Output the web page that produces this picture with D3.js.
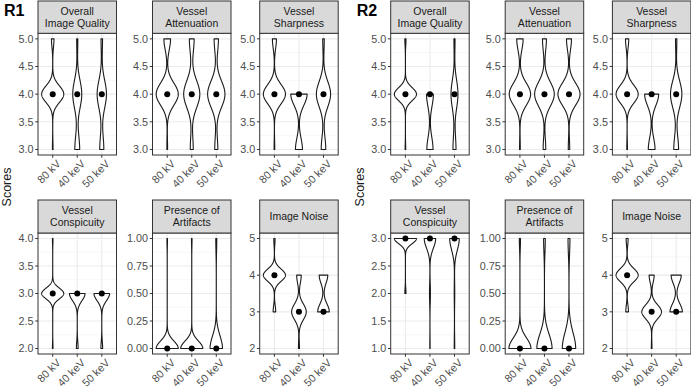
<!DOCTYPE html>
<html>
<head>
<meta charset="utf-8">
<script src="https://cdn.jsdelivr.net/npm/d3@7"></script>
<style>
  body { margin: 0; background: #fff; }
  svg { display: block; }
  text { font-family: "Liberation Sans", Arial, sans-serif; }
</style>
</head>
<body>
<div id="app"></div>
<script>
const energies = ["80 kV", "40 keV", "50 keV"];
const criteria = [
  ["Overall", "Image Quality"],
  ["Vessel", "Attenuation"],
  ["Vessel", "Sharpness"],
  ["Vessel", "Conspicuity"],
  ["Presence of", "Artifacts"],
  ["Image Noise"]
];

// score levels of each panel
const r1Levels = [[3, 4, 5], [3, 4, 5], [3, 4, 5], [2, 3, 4], [0, 1], [2, 3, 4, 5]];
const r2Levels = [[3, 4, 5], [3, 4, 5], [3, 4, 5], [1, 2, 3], [0, 1], [2, 3, 4, 5]];

// patients per score level, for 80 kV / 40 keV / 50 keV
const r1Counts = [
  [[1, 35, 4], [13, 24, 3], [11, 25, 4]],
  [[1, 30, 9], [5, 27, 8], [5, 28, 7]],
  [[1, 33, 6], [12, 28, 0], [9, 28, 3]],
  [[1, 38, 1], [4, 36, 0], [4, 36, 0]],
  [[39, 1], [39, 1], [37, 3]],
  [[0, 4, 34, 2], [2, 29, 9, 0], [0, 23, 17, 0]]
];
const r2Counts = [
  [[1, 37, 2], [19, 21, 0], [11, 25, 4]],
  [[1, 30, 9], [4, 30, 6], [2, 31, 7]],
  [[1, 34, 5], [13, 27, 0], [11, 26, 3]],
  [[0, 2, 38], [1, 3, 36], [2, 2, 36]],
  [[38, 2], [36, 4], [35, 5]],
  [[0, 4, 33, 3], [1, 31, 8, 0], [0, 22, 18, 0]]
];

// y tick labels of each panel
const r1Ticks = [
  ["3.0", "3.5", "4.0", "4.5", "5.0"],
  ["3.0", "3.5", "4.0", "4.5", "5.0"],
  ["3.0", "3.5", "4.0", "4.5", "5.0"],
  ["2.0", "2.5", "3.0", "3.5", "4.0"],
  ["0.00", "0.25", "0.50", "0.75", "1.00"],
  ["2", "3", "4", "5"]
];
const r2Ticks = [
  ["3.0", "3.5", "4.0", "4.5", "5.0"],
  ["3.0", "3.5", "4.0", "4.5", "5.0"],
  ["3.0", "3.5", "4.0", "4.5", "5.0"],
  ["1.0", "1.5", "2.0", "2.5", "3.0"],
  ["0.00", "0.25", "0.50", "0.75", "1.00"],
  ["2", "3", "4", "5"]
];

const width = 691;
const height = 390;
const colX = [38, 152.5, 259.7];
const panelW = 78.5;
const rows = [
  { strip: 1, top: 33.3, bottom: 155 },
  { strip: 200, top: 233, bottom: 354 }
];

const svg = d3.select("#app").append("svg").attr("width", width).attr("height", height);

// R's bw.nrd0
const bwNrd0 = (x) => {
  const hi = d3.deviation(x);
  const iqr = d3.quantileSorted(x, 0.75) - d3.quantileSorted(x, 0.25);
  let lo = Math.min(hi, iqr / 1.34);
  if (!(lo > 0)) lo = hi || Math.abs(x[0]) || 1;
  return 0.9 * lo * Math.pow(x.length, -0.2);
};

const violinStats = (levels, counts) => {
  const values = levels.flatMap((l, i) => d3.range(counts[i]).map(() => l));
  const bw = bwNrd0(values);
  const lo = d3.min(values);
  const hi = d3.max(values);
  const n = values.length;
  const pts = d3.range(512).map((i) => {
    const v = lo + (hi - lo) * i / 511;
    const dens = d3.sum(levels, (l, k) => counts[k] * Math.exp(-0.5 * ((v - l) / bw) ** 2)) / (n * bw * Math.sqrt(2 * Math.PI));
    return { v, dens };
  });
  return { pts, median: d3.median(values), lo, hi };
};

function drawReader(x0, name, levelsAll, countsAll, ticksAll) {
  const g = svg.append("g").attr("transform", `translate(${x0},0)`);

  g.append("text")
    .attr("x", 4)
    .attr("y", 16)
    .style("font-size", "16px")
    .style("font-weight", "bold")
    .text(name);

  g.append("text")
    .attr("transform", `translate(11,187) rotate(-90)`)
    .attr("text-anchor", "middle")
    .style("font-size", "12.5px")
    .attr("fill", "#1a1a1a")
    .text("Scores");

  criteria.forEach((crit, p) => {
    const row = rows[Math.floor(p / 3)];
    const left = colX[p % 3];
    const stats = countsAll[p].map((c) => violinStats(levelsAll[p], c));
    const lo = d3.min(stats, (s) => s.lo);
    const hi = d3.max(stats, (s) => s.hi);
    const pad = (hi - lo) * 0.05;

    const x = d3.scalePoint().domain(energies).range([left, left + panelW]).padding(0.6);
    const y = d3.scaleLinear().domain([lo - pad, hi + pad]).range([row.bottom, row.top]);
    const maxDens = d3.max(stats, (s) => d3.max(s.pts, (d) => d.dens));
    const halfW = x.step() * 0.9 / 2;

    const ticks = ticksAll[p];
    const tickVals = ticks.map(Number);
    const minor = tickVals.slice(1).map((t, i) => (t + tickVals[i]) / 2);

    const panel = g.append("g");
    panel.append("rect")
      .attr("x", left).attr("y", row.top)
      .attr("width", panelW).attr("height", row.bottom - row.top)
      .attr("fill", "#fff");

    panel.selectAll(".minor").data(minor).join("line")
      .attr("x1", left).attr("x2", left + panelW)
      .attr("y1", (d) => y(d)).attr("y2", (d) => y(d))
      .attr("stroke", "#f2f2f2").attr("stroke-width", 0.6);

    panel.selectAll(".major").data(tickVals).join("line")
      .attr("x1", left).attr("x2", left + panelW)
      .attr("y1", (d) => y(d)).attr("y2", (d) => y(d))
      .attr("stroke", "#ebebeb").attr("stroke-width", 1.1);

    panel.selectAll(".vgrid").data(energies).join("line")
      .attr("x1", (d) => x(d)).attr("x2", (d) => x(d))
      .attr("y1", row.top).attr("y2", row.bottom)
      .attr("stroke", "#ebebeb").attr("stroke-width", 1.1);

    stats.forEach((s, i) => {
      const cx = x(energies[i]);
      const area = d3.area()
        .x0((d) => cx - d.dens / maxDens * halfW)
        .x1((d) => cx + d.dens / maxDens * halfW)
        .y((d) => y(d.v));
      panel.append("path")
        .attr("d", area(s.pts) + "Z")
        .attr("fill", "#fff")
        .attr("stroke", "#1a1a1a")
        .attr("stroke-width", 1.1)
        .attr("stroke-linejoin", "round");
      panel.append("circle")
        .attr("cx", cx).attr("cy", y(s.median)).attr("r", 3)
        .attr("fill", "#000");
    });

    panel.append("rect")
      .attr("x", left).attr("y", row.top)
      .attr("width", panelW).attr("height", row.bottom - row.top)
      .attr("fill", "none").attr("stroke", "#333").attr("stroke-width", 1);

    // strip
    panel.append("rect")
      .attr("x", left).attr("y", row.strip)
      .attr("width", panelW).attr("height", row.top - row.strip)
      .attr("fill", "#d9d9d9").attr("stroke", "#333").attr("stroke-width", 1);
    const midY = (row.strip + row.top) / 2;
    crit.forEach((line, k) => {
      panel.append("text")
        .attr("x", left + panelW / 2)
        .attr("y", midY + (k - (crit.length - 1) / 2) * 11.5)
        .attr("dy", "0.35em")
        .attr("text-anchor", "middle")
        .attr("fill", "#1a1a1a")
        .style("font-size", "10.5px")
        .text(line);
    });

    // y axis
    panel.selectAll(".ytick").data(ticks).join("line")
      .attr("x1", left - 2.75).attr("x2", left)
      .attr("y1", (d) => y(+d)).attr("y2", (d) => y(+d))
      .attr("stroke", "#333");
    panel.selectAll(".ylab").data(ticks).join("text")
      .attr("x", left - 4.5)
      .attr("y", (d) => y(+d))
      .attr("dy", "0.36em")
      .attr("text-anchor", "end")
      .attr("fill", "#4d4d4d")
      .style("font-size", "10.8px")
      .text((d) => d);

    // x axis
    panel.selectAll(".xtick").data(energies).join("line")
      .attr("x1", (d) => x(d)).attr("x2", (d) => x(d))
      .attr("y1", row.bottom).attr("y2", row.bottom + 2.75)
      .attr("stroke", "#333");
    panel.selectAll(".xlab").data(energies).join("text")
      .attr("transform", (d) => `translate(${x(d) + 3},${row.bottom + 4}) rotate(-45)`)
      .attr("dy", "0.72em")
      .attr("text-anchor", "end")
      .attr("fill", "#4d4d4d")
      .style("font-size", "10.8px")
      .text((d) => d);
  });
}

drawReader(0, "R1", r1Levels, r1Counts, r1Ticks);
drawReader(352.7, "R2", r2Levels, r2Counts, r2Ticks);
</script>
</body>
</html>
